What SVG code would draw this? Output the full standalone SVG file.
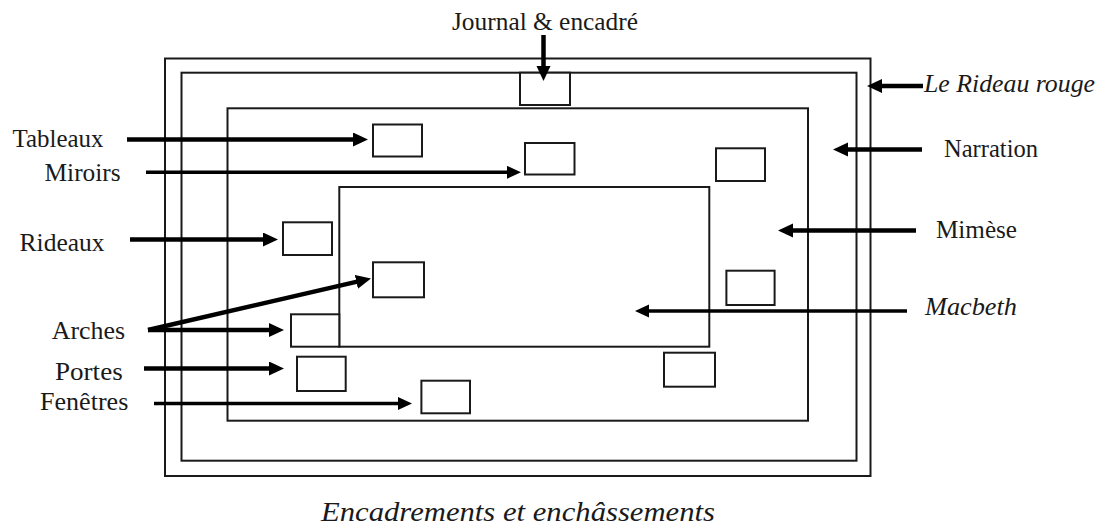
<svg xmlns="http://www.w3.org/2000/svg" width="1105" height="526" viewBox="0 0 1105 526">
<style>
.frame{fill:none;stroke:#1a1a1a;stroke-width:2}
.box{fill:#fff;stroke:#1a1a1a;stroke-width:2}
.lbl{font-family:'Liberation Serif','DejaVu Serif',serif;font-size:25px;fill:#1a1a1a}
.it{font-style:italic}
.thick{stroke:#000;stroke-width:4.5;fill:none;marker-end:url(#ah)}
.thin{stroke:#000;stroke-width:3.5;fill:none;marker-end:url(#ahs)}
</style>
<defs>
<marker id="ah" markerUnits="userSpaceOnUse" markerWidth="16" markerHeight="16" refX="2" refY="7" orient="auto"><path d="M0,0 L15,7 L0,14 z" fill="#000"/></marker>
<marker id="ahs" markerUnits="userSpaceOnUse" markerWidth="16" markerHeight="16" refX="2" refY="6.5" orient="auto"><path d="M0,0 L14,6.5 L0,13 z" fill="#000"/></marker>
</defs>
<rect width="1105" height="526" fill="#fff"/>

<g id="frame-rideau-rouge"><rect class="frame" x="165" y="58.5" width="705.5" height="417.5"/></g>
<g id="frame-journal"><rect class="frame" x="181.5" y="72.7" width="675" height="388"/></g>
<g id="frame-narration"><rect class="frame" x="227.5" y="108.3" width="580.5" height="312.4"/></g>
<g id="frame-macbeth"><rect class="frame" x="339.3" y="187" width="370" height="159.7"/></g>

<g id="box-journal"><rect class="box" x="520" y="72.7" width="50" height="32.3"/></g>
<g id="box-tableaux"><rect class="box" x="373" y="124.5" width="49" height="32"/></g>
<g id="box-miroirs"><rect class="box" x="525" y="143" width="49.5" height="31.5"/></g>
<g id="box-topright"><rect class="box" x="716" y="148.3" width="49" height="32.7"/></g>
<g id="box-rideaux"><rect class="box" x="283" y="222.3" width="49" height="32.7"/></g>
<g id="box-arches1"><rect class="box" x="373" y="262.3" width="51" height="35"/></g>
<g id="box-right"><rect class="box" x="726.4" y="270.7" width="48.2" height="34.3"/></g>
<g id="box-arches2"><rect class="box" x="291" y="314.3" width="48.3" height="32.4"/></g>
<g id="box-portes"><rect class="box" x="297" y="356.7" width="48.7" height="34.3"/></g>
<g id="box-bottomright"><rect class="box" x="664" y="352.7" width="51" height="34"/></g>
<g id="box-fenetres"><rect class="box" x="421.4" y="380.7" width="48.6" height="32.6"/></g>

<g id="connectors">
<line class="thick" x1="543.5" y1="35" x2="543.5" y2="68"/>
<line class="thick" x1="127" y1="139.5" x2="355" y2="139.5"/>
<line class="thin" x1="146" y1="172.3" x2="509" y2="172.3"/>
<line class="thick" x1="130" y1="239.5" x2="265" y2="239.5"/>
<line class="thick" x1="148" y1="330" x2="358.3" y2="281.4"/>
<line class="thick" x1="148" y1="330" x2="271" y2="330"/>
<line class="thick" x1="144" y1="368.5" x2="271" y2="368.5"/>
<line class="thin" x1="154" y1="403.5" x2="400" y2="403.5"/>
<line class="thick" x1="923" y1="86" x2="880" y2="86"/>
<line class="thick" x1="922" y1="149.5" x2="846" y2="149.5"/>
<line class="thick" x1="916" y1="230.5" x2="791" y2="230.5"/>
<line class="thin" x1="907" y1="311" x2="647" y2="311"/>
</g>

<g id="labels" font-family="'Liberation Serif', 'DejaVu Serif', serif">
<text class="lbl" x="452" y="30" textLength="186" lengthAdjust="spacingAndGlyphs">Journal &amp; encadré</text>
<text class="lbl" x="12.5" y="147" textLength="91" lengthAdjust="spacingAndGlyphs">Tableaux</text>
<text class="lbl" x="44.6" y="181" textLength="76" lengthAdjust="spacingAndGlyphs">Miroirs</text>
<text class="lbl" x="19.6" y="251" textLength="85" lengthAdjust="spacingAndGlyphs">Rideaux</text>
<text class="lbl" x="51.7" y="339" textLength="73.3" lengthAdjust="spacingAndGlyphs">Arches</text>
<text class="lbl" x="55" y="380" textLength="67.7" lengthAdjust="spacingAndGlyphs">Portes</text>
<text class="lbl" x="40" y="410" textLength="88.3" lengthAdjust="spacingAndGlyphs">Fenêtres</text>
<text class="lbl it" x="924" y="92" textLength="171" lengthAdjust="spacingAndGlyphs">Le Rideau rouge</text>
<text class="lbl" x="944" y="157" textLength="94" lengthAdjust="spacingAndGlyphs">Narration</text>
<text class="lbl" x="936" y="237.5" textLength="81" lengthAdjust="spacingAndGlyphs">Mimèse</text>
<text class="lbl it" x="925" y="315" textLength="92" lengthAdjust="spacingAndGlyphs">Macbeth</text>
<text class="lbl it" x="321" y="521" style="font-size:27px" textLength="394" lengthAdjust="spacingAndGlyphs">Encadrements et enchâssements</text>
</g>
</svg>
